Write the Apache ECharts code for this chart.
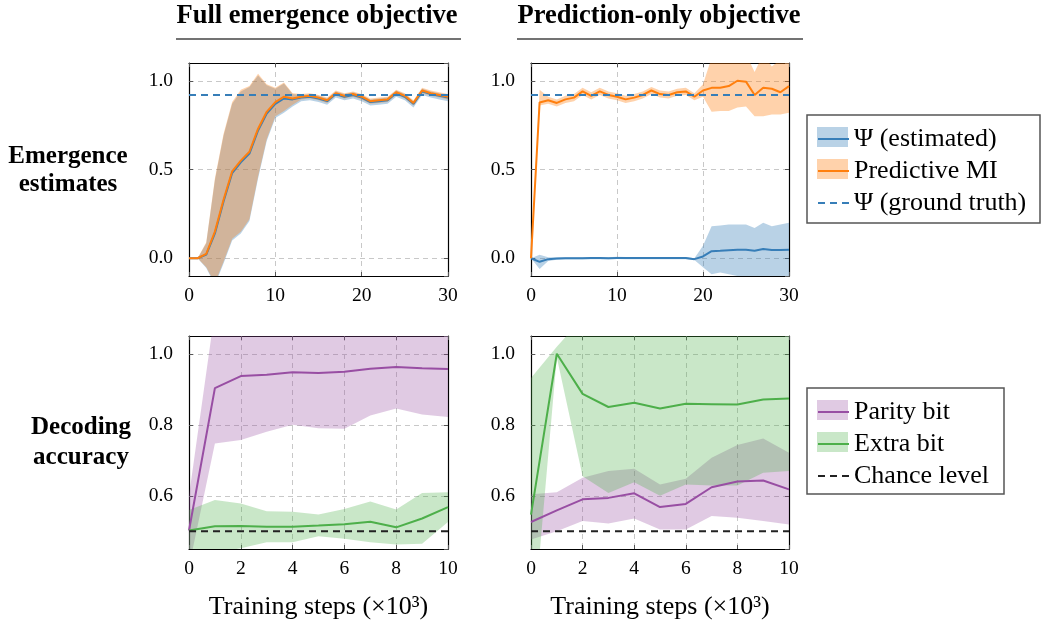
<!DOCTYPE html>
<html><head><meta charset="utf-8">
<script src="https://cdn.jsdelivr.net/npm/echarts@6/dist/echarts.min.js"></script>
<style>html,body{margin:0;padding:0;background:#fff}#c{width:1041px;height:626px}</style>
</head><body><div id="c"></div>
<script>
// ---------- data ----------
const topSteps = [0,1,2,3,4,5,6,7,8,9,10,11,12,13,14,15,16,17,18,19,20,21,22,23,24,25,26,27,28,29,30];
const bottomSteps = [0,1,2,3,4,5,6,7,8,9,10];
const topTicks = [0,10,20,30];
const bottomTicks = [0,2,4,6,8,10];

// Full emergence objective – emergence estimates
const fullMI   = [0.0,0.0,0.025,0.15,0.33,0.49,0.55,0.60,0.73,0.825,0.88,0.91,0.90,0.91,0.915,0.905,0.89,0.93,0.915,0.925,0.91,0.885,0.89,0.895,0.935,0.915,0.875,0.945,0.93,0.92,0.91];
const fullMIHi = [0.0,0.0,0.09,0.45,0.70,0.88,0.95,0.97,1.04,0.98,0.96,0.99,0.93,0.925,0.93,0.92,0.905,0.945,0.93,0.94,0.925,0.90,0.905,0.91,0.95,0.93,0.89,0.96,0.945,0.935,0.925];
const fullMILo = [0.0,0.0,-0.05,-0.14,-0.02,0.11,0.15,0.22,0.46,0.67,0.80,0.83,0.865,0.895,0.90,0.89,0.875,0.915,0.90,0.91,0.895,0.87,0.875,0.88,0.92,0.90,0.86,0.93,0.915,0.905,0.895];
const fullPsi   = [0.0,0.0,0.02,0.14,0.32,0.48,0.54,0.59,0.72,0.815,0.87,0.90,0.895,0.905,0.91,0.90,0.885,0.925,0.91,0.92,0.905,0.88,0.885,0.89,0.93,0.91,0.87,0.94,0.925,0.915,0.905];
const fullPsiHi = [0.0,0.0,0.085,0.44,0.69,0.87,0.94,0.965,1.03,0.975,0.955,0.985,0.925,0.92,0.925,0.915,0.90,0.94,0.925,0.935,0.92,0.895,0.90,0.905,0.945,0.925,0.885,0.955,0.94,0.93,0.92];
const fullPsiLo = [0.0,0.0,-0.055,-0.15,-0.03,0.10,0.14,0.21,0.45,0.66,0.79,0.82,0.855,0.885,0.89,0.88,0.865,0.905,0.89,0.90,0.885,0.86,0.865,0.87,0.91,0.89,0.85,0.92,0.905,0.895,0.885];

// Prediction-only objective – emergence estimates
const predMI   = [0.0,0.878,0.89,0.875,0.895,0.905,0.94,0.915,0.94,0.92,0.91,0.895,0.905,0.92,0.945,0.925,0.92,0.935,0.94,0.91,0.945,0.96,0.96,0.97,1.0,0.995,0.92,0.96,0.955,0.935,0.97];
const predMIHi = [0.0,0.95,0.91,0.895,0.915,0.925,0.96,0.935,0.96,0.94,0.93,0.915,0.925,0.94,0.965,0.945,0.94,0.955,0.96,0.93,0.98,1.13,1.15,1.15,1.15,1.15,1.05,1.15,1.08,1.12,1.15];
const predMILo = [0.0,0.86,0.87,0.855,0.875,0.885,0.92,0.895,0.92,0.90,0.89,0.875,0.885,0.90,0.925,0.905,0.90,0.915,0.92,0.89,0.91,0.825,0.83,0.83,0.85,0.855,0.80,0.80,0.81,0.81,0.82];
const predPsi   = [0.0,-0.02,-0.005,-0.002,0.0,0.0,0.0,0.001,0.001,0.0,0.002,0.001,0.001,0.001,0.001,0.001,0.001,0.001,0.001,-0.005,0.01,0.04,0.042,0.045,0.048,0.048,0.042,0.052,0.046,0.046,0.048];
const predPsiHi = [0.0,0.02,0.005,0.004,0.006,0.006,0.006,0.007,0.007,0.006,0.008,0.007,0.007,0.007,0.007,0.007,0.007,0.007,0.007,0.0,0.07,0.18,0.185,0.19,0.19,0.19,0.17,0.20,0.18,0.19,0.20];
const predPsiLo = [0.0,-0.06,-0.015,-0.008,-0.006,-0.006,-0.006,-0.005,-0.005,-0.006,-0.004,-0.005,-0.005,-0.005,-0.005,-0.005,-0.005,-0.005,-0.005,-0.01,-0.05,-0.09,-0.08,-0.09,-0.10,-0.11,-0.10,-0.12,-0.12,-0.12,-0.12];

// Full emergence objective – decoding accuracy
const fullParity   = [0.502,0.903,0.937,0.941,0.948,0.946,0.949,0.958,0.963,0.959,0.957];
const fullParityHi = [0.60,1.12,1.15,1.15,1.15,1.15,1.15,1.15,1.15,1.15,1.15];
const fullParityLo = [0.40,0.747,0.757,0.78,0.80,0.79,0.789,0.826,0.846,0.829,0.822];
const fullExtra    = [0.502,0.514,0.515,0.513,0.513,0.516,0.520,0.527,0.511,0.536,0.568];
const fullExtraHi  = [0.56,0.588,0.578,0.556,0.555,0.547,0.563,0.584,0.561,0.608,0.61];
const fullExtraLo  = [0.40,0.44,0.452,0.469,0.469,0.486,0.479,0.469,0.463,0.465,0.526];

// Prediction-only objective – decoding accuracy
const predParity   = [0.526,0.559,0.59,0.594,0.607,0.568,0.577,0.624,0.640,0.643,0.618];
const predParityHi = [0.604,0.61,0.651,0.67,0.676,0.632,0.648,0.707,0.743,0.761,0.721];
const predParityLo = [0.477,0.50,0.529,0.522,0.536,0.505,0.505,0.543,0.538,0.529,0.519];
const predExtra    = [0.547,1.0,0.887,0.85,0.862,0.846,0.859,0.858,0.857,0.871,0.874];
const predExtraHi  = [0.932,1.02,1.10,1.15,1.15,1.15,1.15,1.15,1.15,1.15,1.15];
const predExtraLo  = [0.16,0.99,0.655,0.608,0.638,0.60,0.632,0.629,0.629,0.665,0.67];

const psiGroundTruth = 0.92;
const chanceLevel = 0.5;

const columnTitles = ['Full emergence objective', 'Prediction-only objective'];
const rowTitles = ['Emergence\nestimates', 'Decoding\naccuracy'];
const xAxisTitle = 'Training steps (×10³)';
const topLegend = ['Ψ (estimated)', 'Predictive MI', 'Ψ (ground truth)'];
const bottomLegend = ['Parity bit', 'Extra bit', 'Chance level'];

// ---------- style ----------
const FONT = 'Liberation Serif';
const C = { blue:'#377eb8', orange:'#ff7f0e', purple:'#984ea3', green:'#4daf4a' };

const grids = [
  {left:189, top:63, width:259, height:213},
  {left:531, top:63, width:258, height:213},
  {left:189, top:336, width:259, height:213},
  {left:531, top:336, width:258, height:213}
];

const xAxes = [], yAxes = [];
grids.forEach((g, gi) => {
  const isTop = gi < 2;
  const xmax = isTop ? topTicks[topTicks.length-1] : bottomTicks[bottomTicks.length-1];
  const xint = isTop ? topTicks[1]-topTicks[0] : bottomTicks[1]-bottomTicks[0];
  const ymin = isTop ? -0.1 : 0.45, ymax = isTop ? 1.1 : 1.05;
  ['bottom','top'].forEach((pos, k) => {
    xAxes.push({
      type:'value', gridIndex:gi, position:pos, min:0, max:xmax, interval:xint,
      name: (!isTop && k===0) ? xAxisTitle : '',
      nameLocation:'middle', nameGap:45,
      nameTextStyle:{fontFamily:FONT, fontSize:26, color:'#000'},
      axisLine:{show:true, onZero:false, lineStyle:{color:'#000', width:1.2}},
      axisTick:{show:true, inside:true, length:4, lineStyle:{color:'#555'}},
      axisLabel:{show:k===0, margin:10, fontFamily:FONT, fontSize:19.5, color:'#000'},
      splitLine:{show:k===0, lineStyle:{type:[5,4], color:'#c8c8c8', width:1}}
    });
  });
  ['left','right'].forEach((pos, k) => {
    yAxes.push({
      type:'value', gridIndex:gi, position:pos, min:ymin, max:ymax, splitNumber:3,
      axisLine:{show:true, onZero:false, lineStyle:{color:'#000', width:1.2}},
      axisTick:{show:true, inside:true, length:4, lineStyle:{color:'#555'}},
      axisLabel:{show:k===0, margin:16, fontFamily:FONT, fontSize:19.5, color:'#000',
        showMinLabel:false, showMaxLabel:false, formatter:v=>v.toFixed(1)},
      splitLine:{show:k===0, lineStyle:{type:[5,4], color:'#c8c8c8', width:1}}
    });
  });
});

function band(id, gi, xs, lo, hi, color, op) {
  return {
    type:'custom', name:id, xAxisIndex:2*gi, yAxisIndex:2*gi, z:1, clip:true, silent:true,
    data: xs.map((x,i)=>[x, lo[i], hi[i]]),
    encode:{x:0, y:[1,2]},
    renderItem: function(params, api) {
      if (params.dataIndex !== 0) return;
      const pts = [];
      for (let i=0;i<xs.length;i++) pts.push(api.coord([xs[i], hi[i]]));
      for (let i=xs.length-1;i>=0;i--) pts.push(api.coord([xs[i], lo[i]]));
      const cs = params.coordSys;
      return {type:'polygon', shape:{points:pts}, style:{fill:color, opacity:op},
        clipPath:{type:'rect', shape:{x:cs.x, y:cs.y, width:cs.width, height:cs.height}}};
    }
  };
}
function line(name, gi, xs, ys, color, dashed) {
  return {
    type:'line', name:name, xAxisIndex:2*gi, yAxisIndex:2*gi, z:3,
    symbol:'none', showSymbol:false, animation:false,
    data: xs.map((x,i)=>[x, ys[i]]),
    lineStyle:{color:color, width:2, type: dashed ? [7,5] : 'solid'},
    itemStyle:{color:color}
  };
}
const topEnds = [topSteps[0], topSteps[topSteps.length-1]];
const botEnds = [bottomSteps[0], bottomSteps[bottomSteps.length-1]];

const series = [
  band('b0a',0,topSteps,fullPsiLo,fullPsiHi,C.blue,0.35),
  band('b0b',0,topSteps,fullMILo,fullMIHi,C.orange,0.35),
  line(topLegend[0],0,topSteps,fullPsi,C.blue),
  line(topLegend[1],0,topSteps,fullMI,C.orange),
  line(topLegend[2],0,topEnds,[psiGroundTruth,psiGroundTruth],C.blue,true),
  band('b1a',1,topSteps,predPsiLo,predPsiHi,C.blue,0.35),
  band('b1b',1,topSteps,predMILo,predMIHi,C.orange,0.35),
  line(topLegend[0],1,topSteps,predPsi,C.blue),
  line(topLegend[1],1,topSteps,predMI,C.orange),
  line(topLegend[2],1,topEnds,[psiGroundTruth,psiGroundTruth],C.blue,true),
  band('b2a',2,bottomSteps,fullParityLo,fullParityHi,C.purple,0.3),
  band('b2b',2,bottomSteps,fullExtraLo,fullExtraHi,C.green,0.3),
  line(bottomLegend[0],2,bottomSteps,fullParity,C.purple),
  line(bottomLegend[1],2,bottomSteps,fullExtra,C.green),
  line(bottomLegend[2],2,botEnds,[chanceLevel,chanceLevel],'#222',true),
  band('b3a',3,bottomSteps,predParityLo,predParityHi,C.purple,0.3),
  band('b3b',3,bottomSteps,predExtraLo,predExtraHi,C.green,0.3),
  line(bottomLegend[0],3,bottomSteps,predParity,C.purple),
  line(bottomLegend[1],3,bottomSteps,predExtra,C.green),
  line(bottomLegend[2],3,botEnds,[chanceLevel,chanceLevel],'#222',true)
];

function legendAt(data, top) {
  return {
    data:data, orient:'vertical', left:807, top:top, padding:[11,10,10,10],
    itemWidth:31, itemHeight:20, itemGap:6, selectedMode:false,
    itemStyle:{opacity:0},
    textStyle:{fontFamily:FONT, fontSize:26, color:'#000'},
    backgroundColor:'transparent', borderWidth:0
  };
}

function txt(text, x, y, size, bold, lh) {
  return {type:'text', x:x, y:y, z:10, style:{text:text, fill:'#000',
    fontFamily:FONT, fontSize:size, fontWeight:bold?'bold':'normal',
    textAlign:'center', align:'center',
    textVerticalAlign:'middle', verticalAlign:'middle', lineHeight:lh||size}};
}
const graphic = [
  txt(columnTitles[0], 317, 16, 26.5, true),
  txt(columnTitles[1], 659, 16, 26.5, true),
  {type:'line', z:10, shape:{x1:176,y1:39,x2:461,y2:39}, style:{stroke:'#444', lineWidth:1.5}},
  {type:'line', z:10, shape:{x1:517,y1:39,x2:803,y2:39}, style:{stroke:'#444', lineWidth:1.5}},
  txt(rowTitles[0], 68, 171, 25, true, 28),
  txt(rowTitles[1], 81, 443, 25, true, 30),
  {type:'rect', z:1, shape:{x:807,y:115,width:233,height:108}, style:{fill:'none', stroke:'#555', lineWidth:1.5}},
  {type:'rect', z:1, shape:{x:807,y:388,width:197,height:106}, style:{fill:'none', stroke:'#555', lineWidth:1.5}},
  {type:'rect', z:1, shape:{x:817,y:127,width:31,height:20}, style:{fill:C.blue, opacity:0.35}},
  {type:'rect', z:1, shape:{x:817,y:159,width:31,height:20}, style:{fill:C.orange, opacity:0.35}},
  {type:'rect', z:1, shape:{x:817,y:400,width:31,height:20}, style:{fill:C.purple, opacity:0.3}},
  {type:'rect', z:1, shape:{x:817,y:432,width:31,height:20}, style:{fill:C.green, opacity:0.3}}
];

const chart = echarts.init(document.getElementById('c'), null, {renderer:'canvas'});
chart.setOption({
  animation:false,
  backgroundColor:'#fff',
  grid:grids, xAxis:xAxes, yAxis:yAxes,
  legend:[legendAt(topLegend,115), legendAt(bottomLegend,388)],
  graphic:graphic,
  series:series
});
</script></body></html>
